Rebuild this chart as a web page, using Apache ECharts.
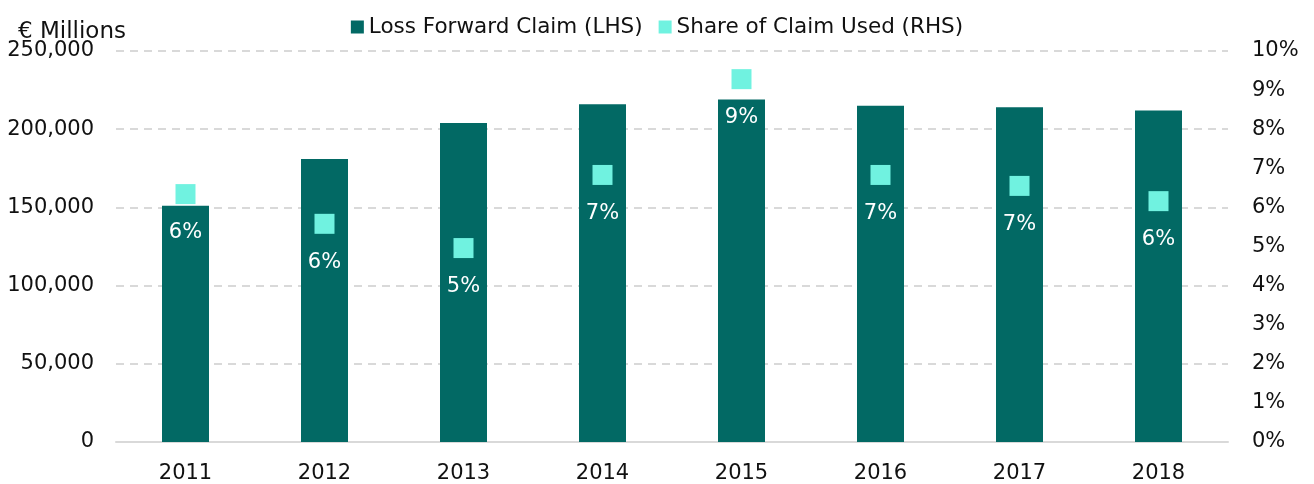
<!DOCTYPE html>
<html>
<head>
<meta charset="utf-8">
<script src="https://cdn.jsdelivr.net/npm/echarts@6/dist/echarts.min.js"></script>
<style>
  html, body { margin: 0; padding: 0; background: #fff; }
  #main { width: 1314px; height: 484px; }
</style>
</head>
<body>
<div id="main"></div>
<script>
// ===================== data =====================
const years = ['2011', '2012', '2013', '2014', '2015', '2016', '2017', '2018']
// € millions
const lossForwardClaim = [151000, 181000, 204000, 216000, 219000, 215000, 214000, 212000]
// percent
const shareOfClaimUsed = [6.34, 5.58, 4.96, 6.83, 9.28, 6.83, 6.55, 6.16]

const font = 'DejaVu Sans, Verdana, sans-serif'
const textColor = '#111'

// ===================== init =====================
const myChart = echarts.init(document.getElementById('main'))
const option = {
  animation: false,
  textStyle: { fontFamily: font },
  title: {
    text: '€ Millions',
    left: 13,
    top: 16,
    textStyle: { fontFamily: font, fontSize: 23, fontWeight: 'normal', color: textColor },
  },
  legend: {
    left: 'center',
    top: 11,
    itemWidth: 13,
    itemHeight: 13,
    itemGap: 16,
    itemStyle: { borderWidth: 0, opacity: 1 },
    textStyle: { fontFamily: font, fontSize: 21.5, color: textColor },
    data: [
      { name: 'Loss Forward Claim (LHS)', icon: 'rect' },
      { name: 'Share of Claim Used (RHS)', icon: 'rect' },
    ],
  },
  grid: {
    left: 116,
    right: 86,
    top: 51,
    bottom: 42,
  },
  xAxis: {
    type: 'category',
    data: years,
    axisTick: { show: false },
    axisLine: { show: true, lineStyle: { color: '#d9d9d9', width: 2 } },
    axisLabel: { fontFamily: font, fontSize: 21, color: textColor, margin: 21 },
  },
  yAxis: [
    {
      type: 'value',
      min: 0,
      max: 250000,
      interval: 50000,
      axisLine: { show: false },
      axisTick: { show: false },
      axisLabel: {
        fontFamily: font,
        fontSize: 21,
        color: textColor,
        margin: 22,
        formatter: (v) => v.toLocaleString('en-US'),
      },
      splitLine: {
        show: true,
        lineStyle: { color: '#d9d9d9', width: 2, type: [8, 6] },
      },
    },
    {
      type: 'value',
      min: 0,
      max: 10,
      interval: 1,
      axisLine: { show: false },
      axisTick: { show: false },
      splitLine: { show: false },
      axisLabel: {
        fontFamily: font,
        fontSize: 21,
        color: textColor,
        margin: 24,
        formatter: '{value}%',
      },
    },
  ],
  series: [
    {
      name: 'Loss Forward Claim (LHS)',
      type: 'bar',
      data: lossForwardClaim,
      barWidth: 47,
      itemStyle: { color: '#026964' },
    },
    {
      name: 'Share of Claim Used (RHS)',
      type: 'scatter',
      yAxisIndex: 1,
      data: shareOfClaimUsed,
      symbol: 'rect',
      symbolSize: 20,
      itemStyle: { color: '#70F2E0', opacity: 1 },
      label: {
        show: true,
        position: 'bottom',
        distance: 18,
        fontFamily: font,
        fontSize: 21,
        color: '#fff',
        formatter: (p) => Math.round(p.value) + '%',
      },
      z: 5,
    },
  ],
}
myChart.setOption(option)
</script>
</body>
</html>
